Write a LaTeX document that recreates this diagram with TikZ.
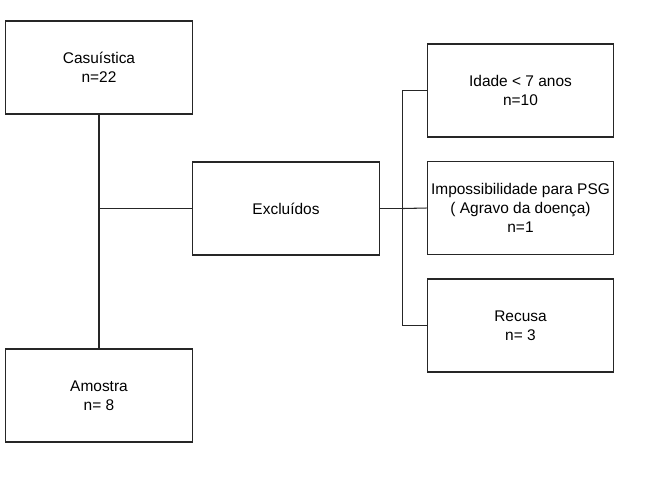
\documentclass[tikz,border=0pt]{standalone}
\usepackage{fontspec}
\setmainfont{Liberation Sans}
\usetikzlibrary{positioning}

\tikzset{
  caixa/.style={draw=black!85, line width=0.9pt, fill=white,
    minimum width=5.6cm, minimum height=2.79cm, align=center,
    inner sep=0pt, font=\fontsize{13.2}{16.2}\selectfont},
  linha/.style={draw=black!85, line width=0.9pt}
}

\begin{document}
\begin{tikzpicture}[x=0.03cm, y=-0.03cm]

    % --- 1. Page frame ---
    \useasboundingbox (0,0) rectangle (654,490);

    % --- 2. Boxes (positions taken from the figure) ---
    \node[caixa] (cas) at (99,67.5)   {Casuística\\n=22};
    \node[caixa] (amo) at (99,395.5)  {Amostra\\n= 8};
    \node[caixa] (exc) at (286,208.5) {Excluídos};
    \node[caixa] (ida) at (520.5,90.5)  {Idade < 7 anos\\n=10};
    \node[caixa] (imp) at (520.5,208)   {Impossibilidade para PSG\\( Agravo da doença)\\n=1};
    \node[caixa] (rec) at (520.5,325.5) {Recusa\\n= 3};

    % --- 3. Connectors ---
    % Left trunk: Casuística down to Amostra
    \draw[linha] (cas.south) -- (amo.north);
    \coordinate (ramo) at (cas.south |- exc.west);
    \draw[linha] (ramo) -- (exc.west);

    % Right fork: Excluídos out to the three reasons
    \coordinate (garfo) at ([xshift=0.69cm]exc.east);
    \draw[linha, line width=1.5pt] (exc.east) -- (garfo);
    \draw[linha] (garfo) |- (ida.west);
    \draw[linha] (garfo) |- (rec.west);
    \draw[linha] (garfo) -- (imp.west);

\end{tikzpicture}
\end{document}
